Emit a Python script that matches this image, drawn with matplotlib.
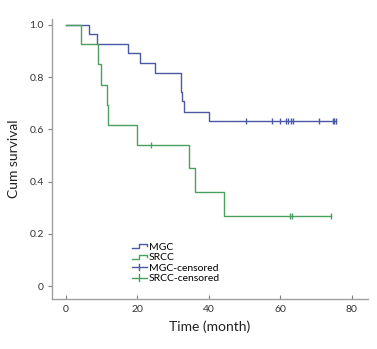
import numpy as np
import matplotlib.pyplot as plt
from matplotlib.legend_handler import HandlerBase
from matplotlib.lines import Line2D

plt.rcParams['font.family'] = ['Lato', 'DejaVu Sans']

# Kaplan-Meier step values (event times, survival after each event)
mgc_times = [0, 6.5, 8.6, 17.4, 20.7, 25.0, 32.3, 32.6, 33.1, 40.1]
mgc_surv = [1.0, 0.964, 0.928, 0.891, 0.853, 0.817, 0.744, 0.710, 0.668, 0.632]
mgc_cens = [50.3, 57.6, 60.0, 61.7, 62.2, 62.9, 63.6, 70.8, 74.6, 75.1, 75.5]

srcc_times = [0, 4.1, 8.9, 9.7, 11.5, 11.9, 19.9, 34.3, 36.0, 44.2]
srcc_surv = [1.0, 0.926, 0.849, 0.770, 0.693, 0.617, 0.540, 0.451, 0.359, 0.269]
srcc_cens = [23.7, 62.7, 63.2, 74.3]

MGC_COL = '#4b58a6'
SRCC_COL = '#4aa05e'


def surv_at(times, surv, t):
    idx = np.searchsorted(times, t, side='right') - 1
    return np.asarray(surv)[idx]


class StepHandler(HandlerBase):
    def create_artists(self, legend, orig, xd, yd, w, h, fontsize, trans):
        xs = np.array([0, 0.45, 0.45, 1.0, 1.0]) * w - xd
        ys = np.array([0.15, 0.15, 0.8, 0.8, 0.45]) * h - yd
        ln = Line2D(xs, ys, color=orig.get_color(), lw=1.0, transform=trans)
        return [ln]


class CensHandler(HandlerBase):
    def create_artists(self, legend, orig, xd, yd, w, h, fontsize, trans):
        ln = Line2D([-xd, w - xd], [h / 2 - yd] * 2, color=orig.get_color(),
                    lw=1.0, transform=trans)
        tk = Line2D([w / 2 - xd] * 2, [-yd, h - yd], color=orig.get_color(),
                    lw=1.0, transform=trans)
        return [ln, tk]


fig = plt.figure(figsize=(3.77, 3.49), dpi=100)
ax = fig.add_axes([0.138, 0.143, 0.838, 0.803])

ends = [max(mgc_cens), max(srcc_cens)]
series = [(mgc_times, mgc_surv, mgc_cens, MGC_COL, ends[0]),
          (srcc_times, srcc_surv, srcc_cens, SRCC_COL, ends[1])]
lines = []
for times, surv, cens, col, end in series:
    x = list(times) + [end]
    y = list(surv) + [surv[-1]]
    l, = ax.step(x, y, where='post', color=col, lw=1.0)
    lines.append(l)
for times, surv, cens, col, end in series:
    ax.plot(cens, surv_at(times, surv, cens), ls='none', marker='|',
            ms=5, mew=1.0, color=col)

ax.set_xlim(-3.9, 84.5)
ax.set_ylim(-0.05, 1.023)
ax.set_xticks([0, 20, 40, 60, 80])
ax.set_yticks([0, 0.2, 0.4, 0.6, 0.8, 1.0])
ax.set_yticklabels(['0', '0.2', '0.4', '0.6', '0.8', '1.0'])

for side in ['top', 'right']:
    ax.spines[side].set_visible(False)
for side in ['left', 'bottom']:
    ax.spines[side].set_color('#a0a0a0')
    ax.spines[side].set_linewidth(1.0)
ax.tick_params(axis='x', direction='in', length=3, color='#808080',
               labelsize=7.5, labelcolor='#333333', pad=4)
ax.tick_params(axis='y', direction='out', length=3, color='#808080',
               labelsize=7.5, labelcolor='#333333', pad=3)

ax.set_xlabel('Time (month)', fontsize=10, color='#222222', labelpad=5)
ax.set_ylabel('Cum survival', fontsize=10, color='#222222')
ax.yaxis.set_label_coords(-0.1, 0.5)

cens_mgc = Line2D([], [], color=MGC_COL)
cens_srcc = Line2D([], [], color=SRCC_COL)
ax.legend([lines[0], lines[1], cens_mgc, cens_srcc],
          ['MGC', 'SRCC', 'MGC-censored', 'SRCC-censored'],
          handler_map={lines[0]: StepHandler(), lines[1]: StepHandler(),
                       cens_mgc: CensHandler(), cens_srcc: CensHandler()},
          loc='upper left', bbox_to_anchor=(0.25, 0.205), frameon=False,
          fontsize=7.5, handlelength=1.4, handleheight=0.6, handletextpad=0.2,
          labelspacing=0.15, borderpad=0.1, borderaxespad=0)

fig.savefig('out.png', dpi=100)
